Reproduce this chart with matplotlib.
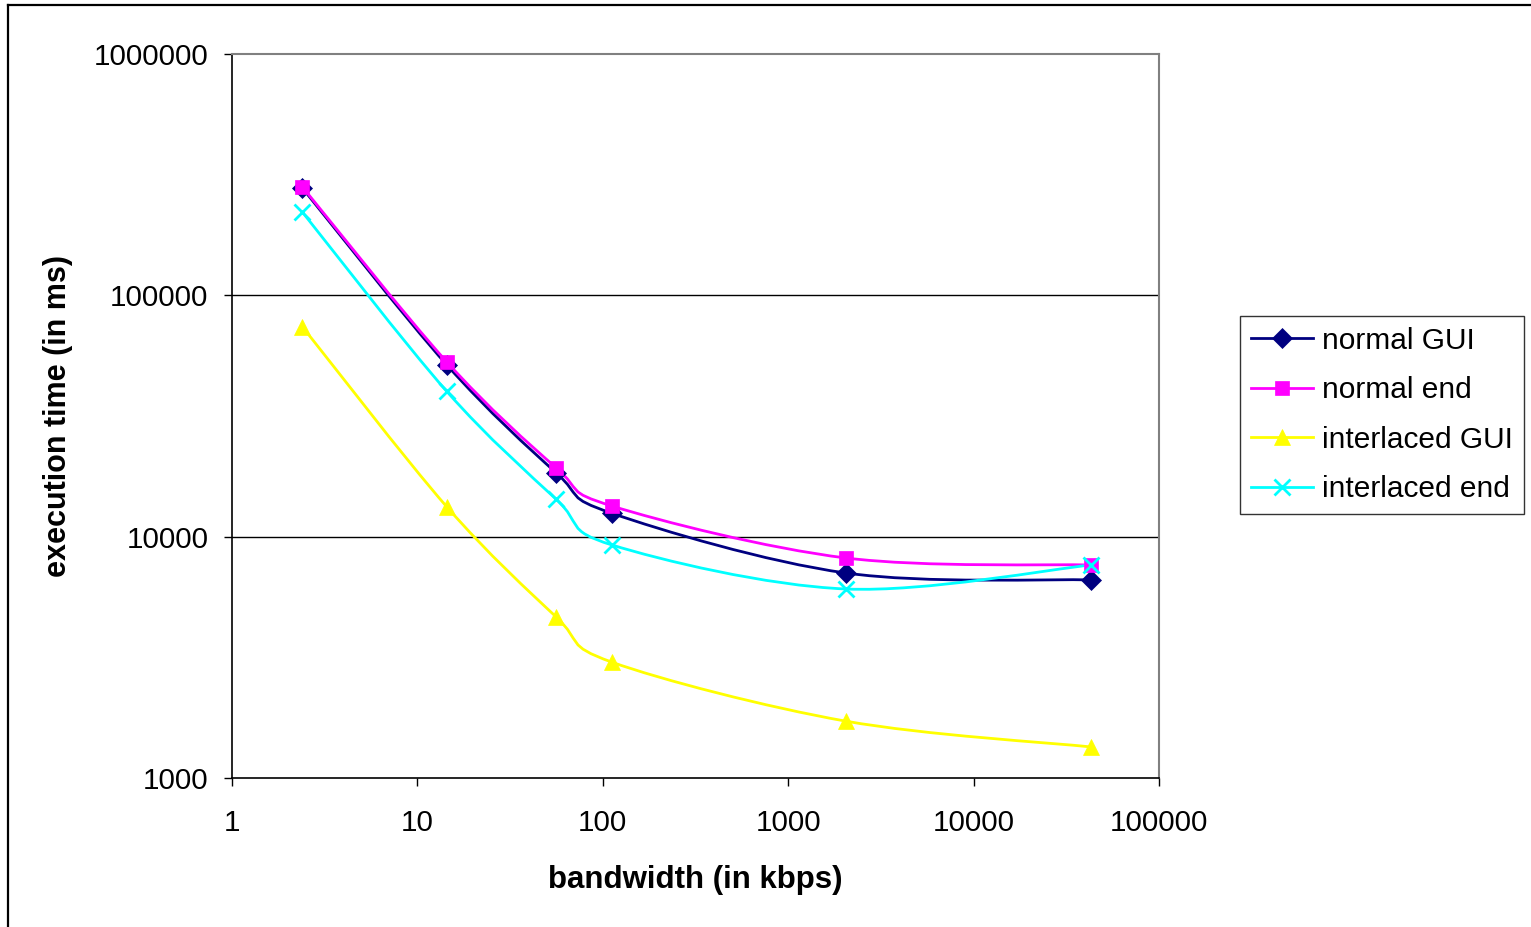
import numpy as np
import matplotlib
matplotlib.use("Agg")
import matplotlib.pyplot as plt
from matplotlib.path import Path
from matplotlib.patches import PathPatch
from matplotlib.lines import Line2D
from matplotlib.ticker import FixedLocator, FixedFormatter, NullLocator

plt.rcParams['font.family'] = ['Liberation Sans', 'DejaVu Sans']

# bandwidth (kbps)
bandwidth = [2.4, 14.4, 56, 112, 2048, 43000]

normal_gui = [278000, 51500, 18400, 12500, 7070, 6620]
normal_end = [281000, 53000, 19300, 13400, 8160, 7630]
interlaced_gui = [74000, 13300, 4650, 3020, 1720, 1345]
interlaced_end = [221000, 40000, 14300, 9240, 6070, 7630]

names = ['normal GUI', 'normal end', 'interlaced GUI', 'interlaced end']
series = [normal_gui, normal_end, interlaced_gui, interlaced_end]
colors = ['#000080', '#FF00FF', '#FFFF00', '#00FFFF']
markers = ['D', 's', '^', 'x']
msizes = [10, 10, 11, 11]

xticks = [1, 10, 100, 1000, 10000, 100000]
yticks = [1000, 10000, 100000, 1000000]


def smooth_path(xs, ys):
    # excel-like smoothed line: bezier segments built in log space
    lx = np.log10(xs)
    ly = np.log10(ys)
    pts = np.column_stack([lx, ly])
    n = len(pts)
    verts = [pts[0]]
    codes = [Path.MOVETO]
    for i in range(n - 1):
        p0 = pts[i - 1] if i > 0 else pts[i]
        p1 = pts[i]
        p2 = pts[i + 1]
        p3 = pts[i + 2] if i + 2 < n else pts[i + 1]
        c1 = p1 + (p2 - p0) / 6.0
        c2 = p2 - (p3 - p1) / 6.0
        verts += [c1, c2, p2]
        codes += [Path.CURVE4] * 3
    verts = 10 ** np.array(verts)
    return Path(verts, codes)


fig = plt.figure(figsize=(15.31, 9.27), dpi=100)
ax = fig.add_axes([232 / 1531, 1 - 778 / 927, (1159 - 232) / 1531, (778 - 54) / 927])
ax.set_xscale('log')
ax.set_yscale('log')
ax.set_xlim(1, 100000)
ax.set_ylim(1000, 1000000)

for yv in [10000, 100000]:
    ax.axhline(yv, color='#000000', lw=1.0, zorder=1)

handles = []
for s, name, c, m, ms in zip(series, names, colors, markers, msizes):
    patch = PathPatch(smooth_path(bandwidth, s), fill=False, edgecolor=c, lw=2.0, zorder=2)
    ax.add_patch(patch)
    mew = 2.0 if m == 'x' else 0.5
    ax.plot(bandwidth, s, linestyle='none', marker=m, color=c, markersize=ms,
            markeredgewidth=mew, zorder=3)
    handles.append(Line2D([], [], color=c, lw=2.0, marker=m, markersize=ms,
                          markeredgewidth=mew))

ax.xaxis.set_major_locator(FixedLocator(xticks))
ax.xaxis.set_major_formatter(FixedFormatter([str(v) for v in xticks]))
ax.yaxis.set_major_locator(FixedLocator(yticks))
ax.yaxis.set_major_formatter(FixedFormatter([str(v) for v in yticks]))
ax.xaxis.set_minor_locator(NullLocator())
ax.yaxis.set_minor_locator(NullLocator())
ax.tick_params(axis='both', direction='out', length=6, width=1, labelsize=21.3, color='#000000')
ax.tick_params(axis='x', pad=16.5)
ax.tick_params(axis='y', pad=11)

for side in ['top', 'right']:
    ax.spines[side].set_color('#808080')
    ax.spines[side].set_linewidth(1.5)
for side in ['left', 'bottom']:
    ax.spines[side].set_color('#000000')
    ax.spines[side].set_linewidth(1.2)

ax.set_xlabel('bandwidth (in kbps)', fontsize=22.5, fontweight='bold', labelpad=20)
ax.set_ylabel('execution time (in ms)', fontsize=22, fontweight='bold', labelpad=15)

leg = fig.legend(handles, names, loc='upper left', bbox_to_anchor=(1240 / 1531, 1 - 316 / 927),
                 bbox_transform=fig.transFigure, borderaxespad=0, fontsize=21.5,
                 frameon=True, fancybox=False, edgecolor='#000000', handlelength=2.1,
                 handletextpad=0.3, labelspacing=0.72, borderpad=0.36)
leg.get_frame().set_linewidth(1.0)

# outer chart frame
fig.add_artist(Line2D([8 / 1531, 8 / 1531], [0, 1 - 5 / 927], transform=fig.transFigure,
                      color='#000000', lw=1.6))
fig.add_artist(Line2D([8 / 1531, 1], [1 - 5 / 927, 1 - 5 / 927], transform=fig.transFigure,
                      color='#000000', lw=1.6))

fig.savefig('out.png', dpi=100)
